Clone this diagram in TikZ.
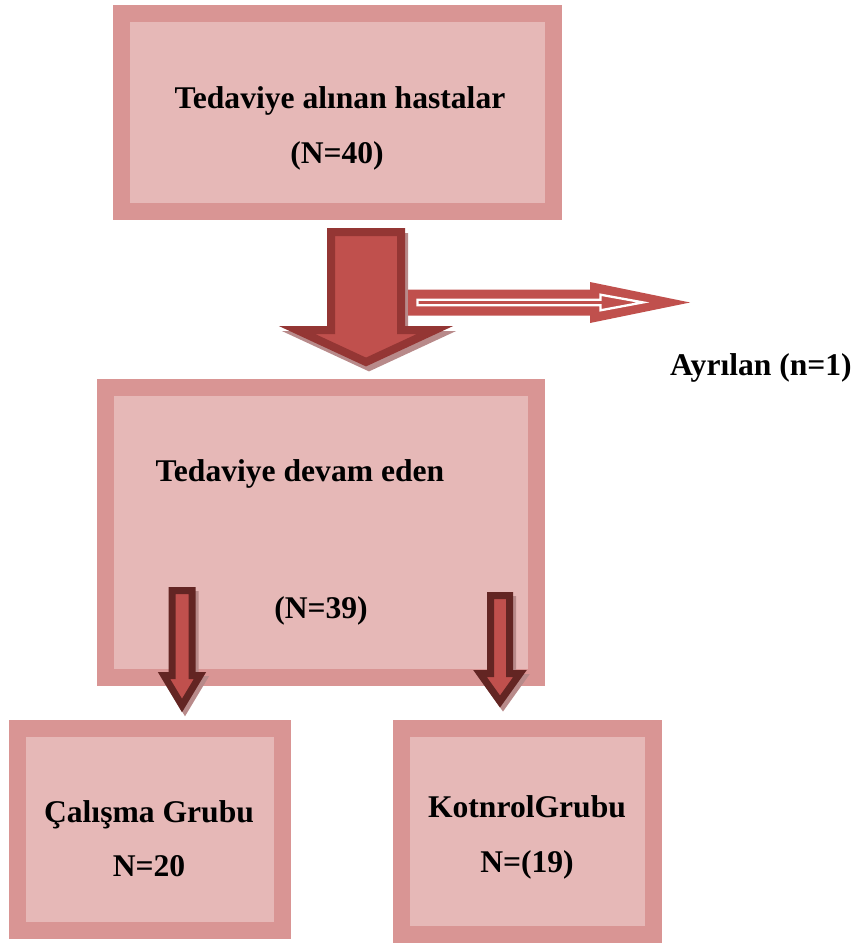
\documentclass[tikz,border=0pt]{standalone}
\usepackage{fontspec}
\setmainfont{Liberation Serif}

\definecolor{kenar}{HTML}{D99594}
\definecolor{ic}{HTML}{E6B8B7}
\definecolor{okrenk}{HTML}{C0504D}
\definecolor{okkenar}{HTML}{943634}
\definecolor{kucukkenar}{HTML}{632523}
\definecolor{golge}{RGB}{184,138,138}

\begin{document}
\begin{tikzpicture}[
    % Birim: 1 piksel = 1pt, y aşağı doğru
    x=1pt, y=-1pt,
    % Kalın kenarlı kutular
    kutu/.style={rectangle, draw=kenar, fill=ic, line width=17pt, inner sep=0pt},
    % Kalın yazılar
    yazi/.style={font=\bfseries\fontsize{31.6}{38}\selectfont, anchor=base, inner sep=0pt},
    % Blok okların stilleri
    buyukok/.style={fill=okrenk, draw=okkenar, line width=8pt},
    kucukok/.style={fill=okrenk, draw=kucukkenar, line width=7pt},
    golgeok/.style={fill=golge, draw=golge}
  ]

  \useasboundingbox (0,0) rectangle (856,943);

  % Kutular
  \node[kutu, minimum width=432pt, minimum height=198pt] (hastalar) at (337.5,112.5) {};
  \node[kutu, minimum width=431pt, minimum height=290pt] (devam) at (321,532.5) {};
  \node[kutu, minimum width=265pt, minimum height=202pt] (calisma) at (150,829.5) {};
  \node[kutu, minimum width=252pt, minimum height=206pt] (kontrol) at (527.5,831.5) {};

  % Yazılar
  \node[yazi] (hastalar1) at (340,108) {Tedaviye alınan hastalar};
  \node[yazi] (hastalar2) at (337,163) {(N=40)};
  \node[yazi] (devam1) at (300,481) {Tedaviye devam eden};
  \node[yazi] (devam2) at (321,618) {(N=39)};
  \node[yazi] (calisma1) at (149,822) {Çalışma Grubu};
  \node[yazi] (calisma2) at (149,876) {N=20};
  \node[yazi] (kontrol1) at (527,817) {KotnrolGrubu};
  \node[yazi] (kontrol2) at (527,872) {N=(19)};
  \node[yazi] (ayrilan) at (761,375) {Ayrılan (n=1)};

  % Büyük aşağı ok (gölgeli)
  \filldraw[golgeok, line width=8pt, shift={(3,5)}]
    (331,232) -- (401,232) -- (401,330) -- (435,330) -- (366,362) -- (297,330) -- (331,330) -- cycle;
  \filldraw[buyukok]
    (331,232) -- (401,232) -- (401,330) -- (435,330) -- (366,362) -- (297,330) -- (331,330) -- cycle;

  % Ayrılanlara giden sağ ok (içi beyaz çizgili)
  \fill[okrenk]
    (408,289.5) -- (590,289.5) -- (590,282) -- (690,302.5) -- (590,323) -- (590,315.5) -- (408,315.5) -- cycle;
  \filldraw[fill=okrenk, draw=white, line width=2.3pt]
    (417.5,299.7) -- (600.5,299.7) -- (600.5,294.7) -- (643,302.4) -- (600.5,310.3) -- (600.5,305.2) -- (417.5,305.2) -- cycle;

  % Sol küçük ok (çalışma grubuna)
  \filldraw[golgeok, line width=7pt, shift={(3,4)}]
    (172,590.5) -- (192,590.5) -- (192,675.5) -- (200,675.5) -- (182,705.5) -- (164,675.5) -- (172,675.5) -- cycle;
  \filldraw[kucukok]
    (172,590.5) -- (192,590.5) -- (192,675.5) -- (200,675.5) -- (182,705.5) -- (164,675.5) -- (172,675.5) -- cycle;

  % Sağ küçük ok (kontrol grubuna)
  \filldraw[golgeok, line width=7pt, shift={(3,4)}]
    (490.5,595.5) -- (509.5,595.5) -- (509.5,673.5) -- (520,673.5) -- (500,701.5) -- (480,673.5) -- (490.5,673.5) -- cycle;
  \filldraw[kucukok]
    (490.5,595.5) -- (509.5,595.5) -- (509.5,673.5) -- (520,673.5) -- (500,701.5) -- (480,673.5) -- (490.5,673.5) -- cycle;

\end{tikzpicture}
\end{document}
